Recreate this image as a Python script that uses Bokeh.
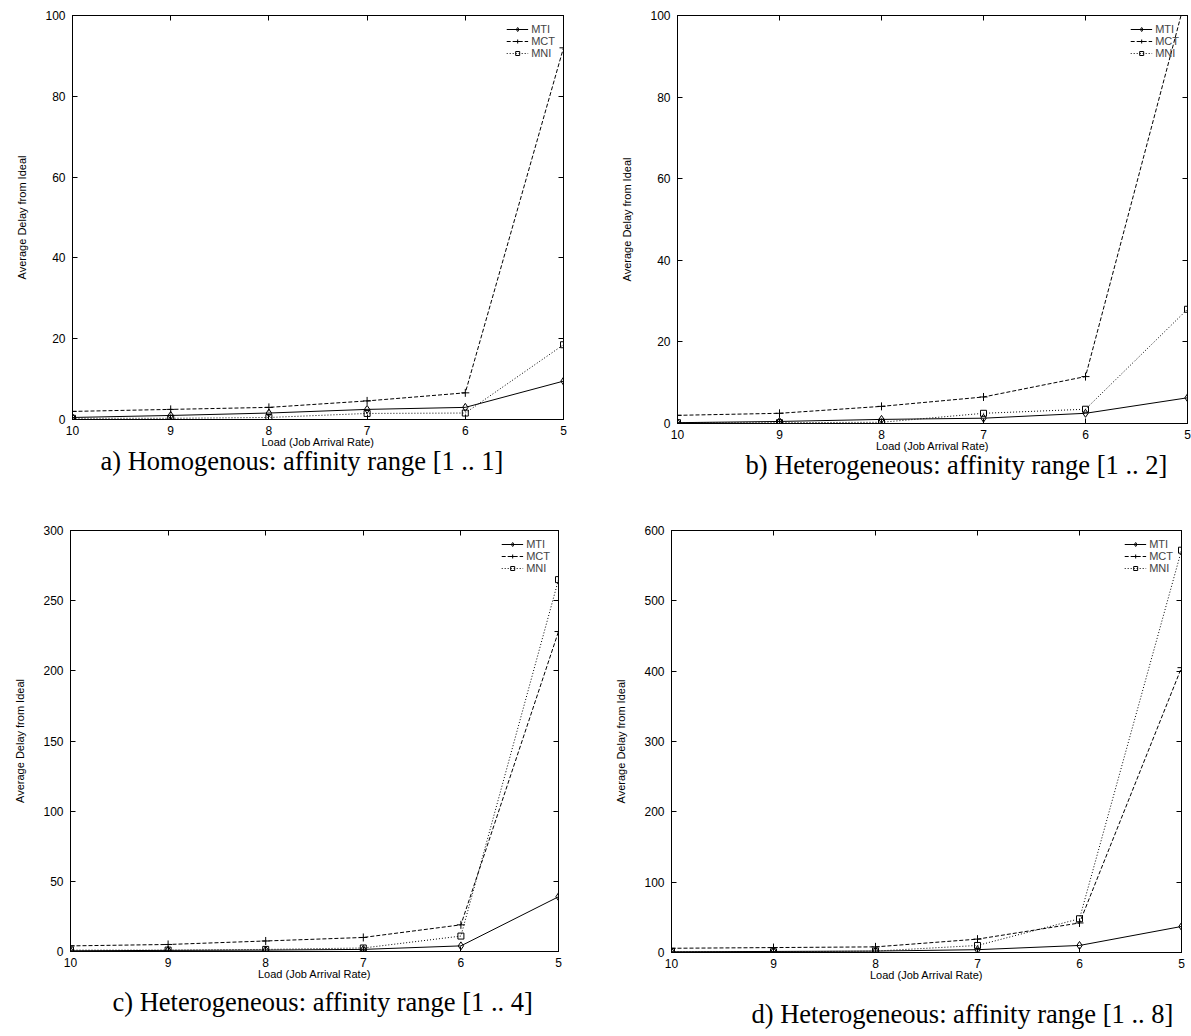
from bokeh.plotting import figure
from bokeh.models import Range1d, FixedTicker, LinearAxis, Title, Legend, LegendItem
from bokeh.layouts import column, row
from bokeh.embed import file_html
from bokeh.resources import INLINE

load = [10, 9, 8, 7, 6, 5]

# Panel a: homogenous [1 .. 1]
a_mti = [0.5, 1.0, 1.6, 2.5, 3.0, 9.5]
a_mct = [2.0, 2.5, 3.0, 4.6, 6.6, 92.0]
a_mni = [0.3, 0.3, 0.5, 1.5, 1.6, 18.5]

# Panel b: heterogeneous [1 .. 2]
b_mti = [0.2, 0.5, 1.0, 1.3, 2.5, 6.3]
b_mct = [2.0, 2.5, 4.2, 6.5, 11.5, 106.0]
b_mni = [0.2, 0.2, 0.3, 2.5, 3.5, 28.0]

# Panel c: heterogeneous [1 .. 4]
c_mti = [0.5, 0.8, 1.0, 1.5, 4.0, 39.0]
c_mct = [4.0, 5.0, 7.5, 10.0, 19.0, 228.0]
c_mni = [1.0, 1.0, 1.5, 2.5, 11.0, 265.0]

# Panel d: heterogeneous [1 .. 8]
d_mti = [1.0, 1.5, 2.0, 4.0, 10.0, 37.0]
d_mct = [6.0, 7.0, 8.0, 19.0, 42.0, 405.0]
d_mni = [1.0, 1.0, 2.0, 10.0, 48.0, 572.0]

series_names = ["MTI", "MCT", "MNI"]
captions = [
    "a) Homogenous: affinity range [1 .. 1]",
    "b) Heterogeneous: affinity range [1 .. 2]",
    "c) Heterogeneous: affinity range [1 .. 4]",
    "d) Heterogeneous: affinity range [1 .. 8]",
]
y_max = [100, 100, 300, 600]
y_step = [20, 20, 50, 100]

SANS = "Liberation Sans"
SERIF = "Liberation Serif"


def make_panel(mti, mct, mni, ymax, ystep, caption, fw, fh, bl, br, bt, bb,
               cap_off, cap_standoff):
    p = figure(width=bl + fw + br, height=bt + fh + bb,
               x_range=Range1d(10, 5), y_range=Range1d(0, ymax),
               output_backend="svg", toolbar_location=None)
    p.min_border_left = bl
    p.min_border_right = br
    p.min_border_top = bt
    p.min_border_bottom = bb
    p.frame_width = fw
    p.frame_height = fh
    p.grid.visible = False
    p.outline_line_color = "black"
    p.outline_line_width = 1
    p.background_fill_color = "white"
    p.border_fill_color = "white"

    xt = FixedTicker(ticks=load)
    yt = FixedTicker(ticks=list(range(0, ymax + 1, ystep)))
    for ax, t in ((p.xaxis[0], xt), (p.yaxis[0], yt)):
        ax.ticker = t
        ax.major_tick_in = 5
        ax.major_tick_out = 0
        ax.minor_tick_line_color = None
        ax.axis_line_color = "black"
        ax.major_tick_line_color = "black"
        ax.major_label_text_font = SANS
        ax.major_label_text_font_size = "12px"
        ax.major_label_text_color = "black"
        ax.axis_label_text_font = SANS
        ax.axis_label_text_font_size = "11px"
        ax.axis_label_text_font_style = "normal"
        ax.axis_label_text_color = "black"
    p.xaxis[0].axis_label = "Load (Job Arrival Rate)"
    p.xaxis[0].major_label_standoff = 6
    p.xaxis[0].axis_label_standoff = -2
    p.yaxis[0].axis_label = "Average Delay from Ideal"
    p.yaxis[0].major_label_standoff = 7
    p.yaxis[0].axis_label_standoff = 14

    for loc, t in (("above", xt), ("right", yt)):
        ax = LinearAxis(ticker=t, major_tick_in=5, major_tick_out=0,
                        minor_tick_line_color=None, axis_line_color="black",
                        major_label_text_font_size="1px",
                        major_label_text_color=None, major_label_standoff=0)
        p.add_layout(ax, loc)

    items = []
    styles = [
        (mti, "solid", "diamond", 8),
        (mct, "4 2", "cross", 8),
        (mni, "1 2", "square", 6),
    ]
    for name, (ys, dash, marker, size) in zip(series_names, styles):
        r1 = p.line(load, ys, line_color="black", line_width=1, line_dash=dash)
        r2 = p.scatter(load, ys, marker=marker, size=size, line_color="black",
                       fill_color=None, line_width=1)
        items.append(LegendItem(label=name, renderers=[r1, r2]))

    legend = Legend(items=items, location="top_right")
    legend.background_fill_alpha = 0
    legend.border_line_alpha = 0
    legend.label_text_font = SANS
    legend.label_text_font_size = "11px"
    legend.label_height = 10
    legend.glyph_height = 10
    legend.glyph_width = 22
    legend.spacing = -1
    legend.padding = 2
    legend.margin = 6
    legend.label_standoff = 3
    p.add_layout(legend)

    cap = Title(text=caption, align="left", text_font=SERIF, text_font_size="26.5px",
                text_font_style="normal", text_color="black", offset=cap_off,
                standoff=cap_standoff)
    p.add_layout(cap, "below")
    return p


pa = make_panel(a_mti, a_mct, a_mni, y_max[0], y_step[0], captions[0],
                491, 404, 72, 25, 15, 81, 28, -13)
pb = make_panel(b_mti, b_mct, b_mni, y_max[1], y_step[1], captions[1],
                510, 408, 89, 4, 14, 78, 68, -13)
pc = make_panel(c_mti, c_mct, c_mni, y_max[2], y_step[2], captions[2],
                488, 421, 70, 30, 28, 81, 42, 4)
pd = make_panel(d_mti, d_mct, d_mni, y_max[3], y_step[3], captions[3],
                510, 422, 83, 10, 30, 78, 80, 27)

layout = column(row(pa, pb), row(pc, pd))
open("out.html", "w").write(file_html(layout, INLINE))
